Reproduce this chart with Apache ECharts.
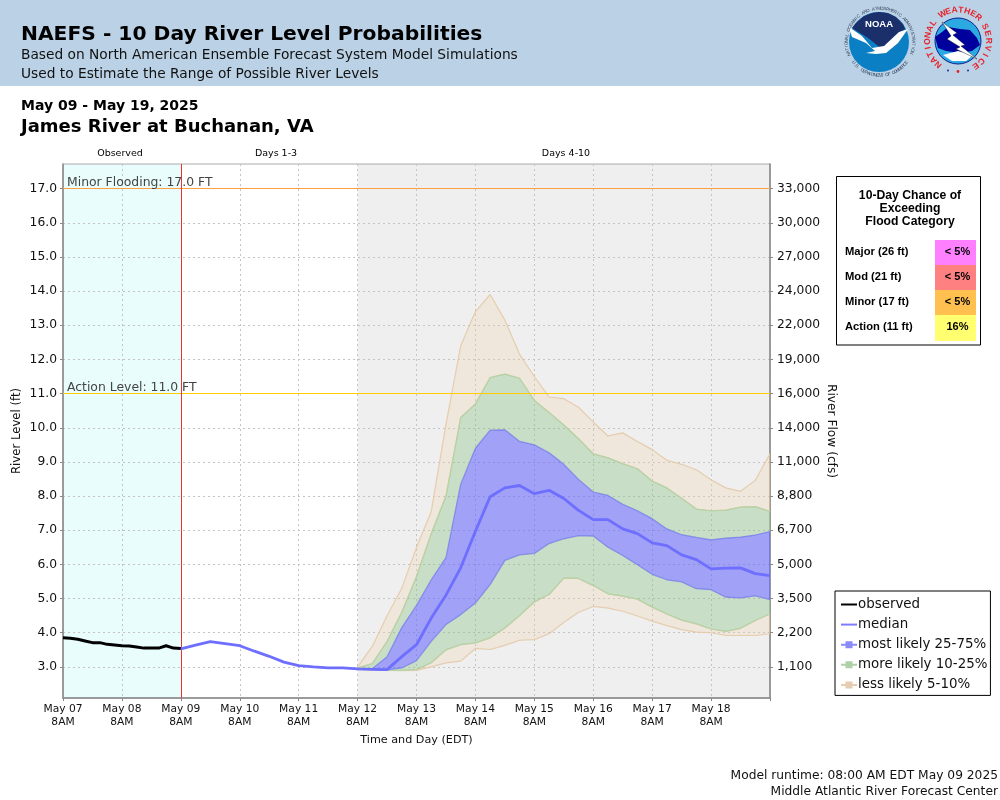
<!DOCTYPE html>
<html>
<head>
<meta charset="utf-8">
<title>NAEFS River Level Probabilities</title>
<script src="https://cdn.jsdelivr.net/npm/echarts@6/dist/echarts.min.js"></script>
<style>
html, body { margin: 0; padding: 0; background: #fff; }
#chart { width: 1000px; height: 800px; }
</style>
</head>
<body>
<div id="chart"></div>
<script>
// hours since May 07 8AM
const dayLabels = ['May 07', 'May 08', 'May 09', 'May 10', 'May 11', 'May 12', 'May 13', 'May 14', 'May 15', 'May 16', 'May 17', 'May 18'];
const stageTicks = [3, 4, 5, 6, 7, 8, 9, 10, 11, 12, 13, 14, 15, 16, 17];
const flowLabels = ['1,100', '2,200', '3,500', '5,000', '6,700', '8,800', '11,000', '14,000', '16,000', '19,000', '22,000', '24,000', '27,000', '30,000', '33,000'];

const obsHours = [0, 3, 6, 9, 12, 15, 18, 21, 24, 27, 30, 33, 36, 39, 42, 45, 48];
const observed = [3.85, 3.84, 3.81, 3.76, 3.71, 3.71, 3.66, 3.64, 3.62, 3.61, 3.58, 3.55, 3.55, 3.55, 3.62, 3.55, 3.54];

const medianHours = [48, 54, 60, 66, 72, 78, 84, 90, 96, 102, 108, 114, 120, 126, 132, 138, 144, 150, 156, 162, 168, 174, 180, 186, 192, 198, 204, 210, 216, 222, 228, 234, 240, 246, 252, 258, 264, 270, 276, 282, 288];
const median = [3.53, 3.64, 3.74, 3.68, 3.62, 3.46, 3.31, 3.14, 3.04, 3.0, 2.97, 2.97, 2.94, 2.93, 2.92, 3.3, 3.65, 4.43, 5.1, 5.9, 6.97, 7.98, 8.24, 8.31, 8.07, 8.17, 7.93, 7.58, 7.31, 7.31, 7.04, 6.9, 6.63, 6.55, 6.28, 6.14, 5.87, 5.89, 5.9, 5.73, 5.67];

const bandHours = [120, 126, 132, 138, 144, 150, 156, 162, 168, 174, 180, 186, 192, 198, 204, 210, 216, 222, 228, 234, 240, 246, 252, 258, 264, 270, 276, 282, 288];
const p5 = [2.92, 2.91, 2.9, 2.89, 2.9, 3.0, 3.12, 3.17, 3.54, 3.51, 3.63, 3.78, 3.8, 3.97, 4.3, 4.6, 4.77, 4.72, 4.63, 4.49, 4.34, 4.21, 4.09, 4.02, 4.0, 3.92, 3.92, 3.92, 3.97];
const p10 = [2.93, 2.92, 2.9, 2.9, 2.92, 3.12, 3.5, 3.65, 3.7, 3.85, 4.14, 4.5, 4.9, 5.12, 5.6, 5.59, 5.38, 5.14, 5.07, 4.98, 4.75, 4.55, 4.37, 4.26, 4.11, 4.04, 4.13, 4.36, 4.55];
const p25 = [2.94, 2.93, 2.91, 2.97, 3.18, 3.75, 4.24, 4.53, 4.87, 5.41, 6.12, 6.28, 6.32, 6.61, 6.75, 6.84, 6.83, 6.5, 6.26, 5.99, 5.71, 5.55, 5.49, 5.29, 5.26, 5.04, 5.02, 5.08, 4.97];
const p75 = [2.95, 2.95, 3.3, 4.15, 4.8, 5.55, 6.2, 8.35, 9.4, 9.93, 9.94, 9.6, 9.5, 9.27, 8.93, 8.49, 8.12, 8.02, 7.76, 7.57, 7.34, 7.04, 6.87, 6.79, 6.72, 6.77, 6.8, 6.86, 6.96];
const p90 = [2.97, 3.1, 3.75, 4.6, 5.65, 6.9, 8.0, 10.3, 10.7, 11.47, 11.57, 11.45, 10.8, 10.45, 10.08, 9.68, 9.24, 9.12, 8.95, 8.8, 8.44, 8.24, 7.94, 7.62, 7.57, 7.59, 7.68, 7.69, 7.55];
const p95 = [3.0, 3.6, 4.5, 5.3, 6.5, 7.55, 10.1, 12.4, 13.4, 13.9, 13.15, 12.15, 11.5, 10.9, 10.85, 10.6, 10.17, 9.76, 9.85, 9.6, 9.36, 9.05, 8.93, 8.77, 8.48, 8.24, 8.14, 8.46, 9.24];

const floodLabels = ['Major (26 ft)', 'Mod (21 ft)', 'Minor (17 ft)', 'Action (11 ft)'];
const floodChances = ['< 5%', '< 5%', '< 5%', '16%'];
const floodColors = ['#FF80FF', '#FF8080', '#FFC050', '#FFFF70'];

const SANS = '"DejaVu Sans"';
const ARIAL = '"Liberation Sans"';

const BLUE_LINE = 'rgba(120,120,255,0.65)', BLUE_FILL = 'rgba(90,90,255,0.52)';
const GREEN_LINE = 'rgba(175,212,165,0.8)', GREEN_FILL = 'rgba(130,190,125,0.36)';
const TAN_LINE = 'rgba(228,200,165,0.85)', TAN_FILL = 'rgba(240,205,165,0.25)';

const BAND_ICON = 'path://M0 6.5H16V8.5H0Z M4.5 4H11.5V11H4.5Z';
const LINE_ICON = 'path://M0 6.5H16V8.5H0Z';

function pairs(xs, ys) {
    return xs.map(function (x, i) { return [x, ys[i]]; });
}

// one closed polygon from lower edge to upper edge, placed through the axes
function bandSeries(name, lower, upper, lineColor, fillColor) {
    return {
        name: name,
        type: 'custom',
        coordinateSystem: 'cartesian2d',
        silent: true,
        clip: true,
        z: 3,
        data: bandHours.map(function (h, i) { return [h, lower[i], upper[i]]; }),
        encode: { x: 0, y: [1, 2] },
        itemStyle: { color: lineColor },
        renderItem: function (params, api) {
            if (params.dataIndex !== 0) return null;
            const top = bandHours.map(function (h, i) { return api.coord([h, upper[i]]); });
            const bottom = bandHours.map(function (h, i) { return api.coord([h, lower[i]]); }).reverse();
            return {
                type: 'polygon',
                shape: { points: top.concat(bottom) },
                style: { fill: fillColor, stroke: lineColor, lineWidth: 1.2, lineJoin: 'round' }
            };
        }
    };
}

function text(x, y, str, font, size, weight, color, align, extra) {
    return Object.assign({
        type: 'text', x: x, y: y, silent: true,
        style: {
            text: str, fontFamily: font, fontSize: size, fontWeight: weight || 'normal',
            fill: color || '#000', textAlign: align || 'left', textVerticalAlign: 'middle'
        }
    }, extra || {});
}

// letters placed one by one round a circle (angles in degrees, 0 = top, clockwise)
function ringText(cx, cy, r, str, startAngle, step, size, weight, color) {
    return str.split('').map(function (ch, i) {
        const a = (startAngle + i * step) * Math.PI / 180;
        return text(cx + r * Math.sin(a), cy - r * Math.cos(a), ch, ARIAL, size, weight, color, 'center', { rotation: -a });
    });
}

// same, for letters along the lower rim that read left to right
function ringTextBottom(cx, cy, r, str, startAngle, step, size, weight, color) {
    return str.split('').map(function (ch, i) {
        const a = (startAngle - i * step) * Math.PI / 180;
        return text(cx + r * Math.sin(a), cy - r * Math.cos(a), ch, ARIAL, size, weight, color, 'center', { rotation: Math.PI - a });
    });
}

function headerGraphics() {
    return [
        { type: 'rect', shape: { x: 0, y: 0, width: 1000, height: 86 }, style: { fill: '#BBD2E6' }, silent: true },
        text(21, 34.5, 'NAEFS - 10 Day River Level Probabilities', SANS, 20.25, 'bold'),
        text(21, 55.5, 'Based on North American Ensemble Forecast System Model Simulations', SANS, 13.75, 'normal', '#111'),
        text(21, 74.5, 'Used to Estimate the Range of Possible River Levels', SANS, 13.75, 'normal', '#111'),
        text(21, 106, 'May 09 - May 19, 2025', SANS, 14, 'bold'),
        text(21, 127.5, 'James River at Buchanan, VA', SANS, 18, 'bold'),
        text(120, 154, 'Observed', SANS, 9.5, 'normal', '#000', 'center'),
        text(276, 154, 'Days 1-3', SANS, 9.5, 'normal', '#000', 'center'),
        text(566, 154, 'Days 4-10', SANS, 9.5, 'normal', '#000', 'center'),
        text(998, 776, 'Model runtime: 08:00 AM EDT May 09 2025', SANS, 12.25, 'normal', '#111', 'right'),
        text(998, 792, 'Middle Atlantic River Forecast Center', SANS, 12.25, 'normal', '#111', 'right')
    ];
}

function noaaLogo() {
    const cx = 879, cy = 42, r = 30;
    return [
        { type: 'circle', shape: { cx: cx, cy: cy, r: r }, style: { fill: '#0B7FC4' }, silent: true },
        { type: 'polygon', shape: { points: [[856, 23], [864, 16], [872, 13], [879, 12], [888, 13], [896, 17], [903, 24], [905, 29], [895, 36], [882, 49], [868, 38], [852, 28]] }, style: { fill: '#1B2F6B' }, silent: true },
        { type: 'polygon', shape: { points: [[849, 27], [862, 36], [872, 48], [884, 46], [899, 32], [908, 29], [898, 43], [886, 53], [876, 54], [866, 53], [875, 51], [866, 43], [852, 37]] }, style: { fill: '#fff' }, silent: true },
        text(cx, 24, 'NOAA', ARIAL, 9.5, 'bold', '#fff', 'center')
    ].concat(
        ringText(cx + 1, cy, 33.5, 'NATIONAL OCEANIC AND ATMOSPHERIC ADMINISTRATION', -112, 4.8, 4.5, 'normal', '#33415E'),
        ringTextBottom(cx + 1, cy, 33.5, 'U.S. DEPARTMENT OF COMMERCE', 232, 4, 4.5, 'normal', '#33415E')
    );
}

function nwsLogo() {
    const cx = 958, cy = 41;
    return [
        { type: 'circle', shape: { cx: cx, cy: cy, r: 23 }, style: { fill: '#2CA9E1', stroke: '#0C1E8C', lineWidth: 1 }, silent: true },
        { type: 'polygon', shape: { points: [[935, 37], [942, 32], [948, 27], [960, 29], [970, 30], [977, 38], [980, 45], [972, 51], [960, 53], [946, 51], [938, 48]] }, style: { fill: '#00009C' }, silent: true },
        { type: 'polygon', shape: { points: [[943, 55], [958, 51], [973, 55], [966, 61], [952, 61]] }, style: { fill: '#fff' }, silent: true },
        { type: 'polygon', shape: { points: [[942, 22], [957, 33], [953, 35], [965, 45], [961, 46], [977, 59], [956, 49], [960, 47], [947, 39], [951, 36]] }, style: { fill: '#fff', stroke: '#000', lineWidth: 0.4 }, silent: true },
        { type: 'circle', shape: { cx: 958, cy: 71.5, r: 1.4 }, style: { fill: '#E8202A' }, silent: true },
        { type: 'circle', shape: { cx: 948, cy: 70.5, r: 1 }, style: { fill: '#1B2F9B' }, silent: true },
        { type: 'circle', shape: { cx: 968, cy: 70.5, r: 1 }, style: { fill: '#1B2F9B' }, silent: true }
    ].concat(
        ringText(cx, cy, 30.5, 'NATIONAL', -140, 12.3, 8.5, 'bold', '#E8202A'),
        ringText(cx, cy, 31, 'WEATHER', -30, 11.8, 8.5, 'bold', '#E8202A'),
        ringText(cx, cy, 30.5, 'SERVICE', 62, 13.8, 8.5, 'bold', '#E8202A')
    );
}

function floodBox() {
    const items = [
        { type: 'rect', shape: { x: 836.5, y: 176.5, width: 144, height: 168.5 }, style: { fill: '#fff', stroke: '#000', lineWidth: 1 }, silent: true },
        text(910, 195.5, '10-Day Chance of', ARIAL, 12.2, 'bold', '#000', 'center'),
        text(910, 208.5, 'Exceeding', ARIAL, 12.2, 'bold', '#000', 'center'),
        text(910, 221.5, 'Flood Category', ARIAL, 12.2, 'bold', '#000', 'center')
    ];
    floodLabels.forEach(function (label, i) {
        const top = 240 + i * 25;
        items.push({ type: 'rect', shape: { x: 935, y: top, width: 41, height: i === 3 ? 26 : 25 }, style: { fill: floodColors[i] }, silent: true });
        items.push(text(845, top + 12, label, ARIAL, 11.2, 'bold'));
        items.push(text(957.5, top + 12, floodChances[i], ARIAL, 11, 'bold', '#000', 'center'));
    });
    return items;
}

const chart = echarts.init(document.getElementById('chart'), null, { renderer: 'canvas' });

const gridLine = { color: '#c4c4c4', type: [2, 3], width: 1 };
const axisLine = { show: true, lineStyle: { color: '#888', width: 1.5 } };
const axisTick = { show: true, length: 3, lineStyle: { color: '#888' } };

const option = {
    animation: false,
    backgroundColor: '#fff',
    textStyle: { fontFamily: SANS },
    graphic: { elements: headerGraphics().concat(noaaLogo(), nwsLogo(), floodBox()) },
    grid: {
        left: 63, top: 164, width: 707, height: 534,
        outerBoundsMode: 'none',
        show: true, borderColor: '#aaa', borderWidth: 1, backgroundColor: 'transparent'
    },
    legend: {
        orient: 'vertical',
        left: 835,
        top: 591,
        padding: [7, 3, 4, 6],
        itemGap: 7.1,
        itemWidth: 16,
        itemHeight: 14,
        borderColor: '#000',
        borderWidth: 1,
        backgroundColor: '#fff',
        selectedMode: false,
        textStyle: { fontFamily: SANS, fontSize: 13.4, color: '#111', padding: [0, 0, 0, -4] },
        data: [
            { name: 'observed', icon: LINE_ICON, itemStyle: { color: '#000' } },
            { name: 'median', icon: LINE_ICON, itemStyle: { color: '#7C7CFF' } },
            { name: 'most likely 25-75%', icon: BAND_ICON, itemStyle: { color: '#8A8AFA' } },
            { name: 'more likely 10-25%', icon: BAND_ICON, itemStyle: { color: '#AFD0A8' } },
            { name: 'less likely 5-10%', icon: BAND_ICON, itemStyle: { color: '#E4CDB2' } }
        ]
    },
    xAxis: {
        type: 'value',
        min: 0,
        max: 288,
        interval: 24,
        name: 'Time and Day (EDT)',
        nameLocation: 'middle',
        nameMoveOverlap: false,
        nameGap: 42,
        nameTextStyle: { fontFamily: SANS, fontSize: 11.2, color: '#111', verticalAlign: 'middle' },
        axisLine: axisLine,
        axisTick: axisTick,
        axisLabel: {
            fontFamily: SANS, fontSize: 10.7, color: '#111', margin: 5, lineHeight: 12.5, hideOverlap: false,
            formatter: function (v) {
                const label = dayLabels[v / 24];
                return label ? label + '\n8AM' : '';
            }
        },
        splitLine: { show: true, lineStyle: gridLine }
    },
    yAxis: [
        {
            type: 'value',
            min: 2.09,
            max: 17.72,
            name: 'River Level (ft)',
            nameLocation: 'middle',
            nameMoveOverlap: false,
            nameRotate: 90,
            nameGap: 46,
            nameTextStyle: { fontFamily: SANS, fontSize: 11.7, color: '#111', verticalAlign: 'middle' },
            axisLine: axisLine,
            axisTick: Object.assign({ customValues: stageTicks }, axisTick),
            axisLabel: {
                fontFamily: SANS, fontSize: 12.3, color: '#111', margin: 6,
                customValues: stageTicks,
                formatter: function (v) { return v.toFixed(1); }
            },
            splitLine: { show: true, lineStyle: gridLine }
        },
        {
            type: 'value',
            position: 'right',
            min: 2.09,
            max: 17.72,
            name: 'River Flow (cfs)',
            nameLocation: 'middle',
            nameMoveOverlap: false,
            nameRotate: -90,
            nameGap: 61,
            nameTextStyle: { fontFamily: SANS, fontSize: 12.2, color: '#111', verticalAlign: 'middle' },
            axisLine: axisLine,
            axisTick: Object.assign({ customValues: stageTicks }, axisTick),
            axisLabel: {
                fontFamily: SANS, fontSize: 12.3, color: '#111', margin: 7,
                customValues: stageTicks,
                formatter: function (v) { return flowLabels[stageTicks.indexOf(v)]; }
            },
            splitLine: { show: false }
        }
    ],
    series: [
        {
            name: 'backdrop',
            type: 'line',
            data: [],
            z: -1,
            silent: true,
            markArea: {
                silent: true,
                z: -1,
                data: [
                    [{ xAxis: 0, itemStyle: { color: '#E9FDFD' } }, { xAxis: 48 }],
                    [{ xAxis: 120, itemStyle: { color: '#EFEFEF' } }, { xAxis: 288 }]
                ]
            }
        },
        bandSeries('less likely 5-10%', p5, p10, TAN_LINE, TAN_FILL),
        bandSeries('less likely 5-10%', p90, p95, TAN_LINE, TAN_FILL),
        bandSeries('more likely 10-25%', p10, p25, GREEN_LINE, GREEN_FILL),
        bandSeries('more likely 10-25%', p75, p90, GREEN_LINE, GREEN_FILL),
        bandSeries('most likely 25-75%', p25, p75, BLUE_LINE, BLUE_FILL),
        {
            name: 'median',
            type: 'line',
            data: pairs(medianHours, median),
            showSymbol: false,
            symbol: 'none',
            lineStyle: { color: '#6E6EFF', width: 2.8 },
            itemStyle: { color: '#7C7CFF' },
            emphasis: { disabled: true },
            z: 5
        },
        {
            name: 'observed',
            type: 'line',
            data: pairs(obsHours, observed),
            showSymbol: false,
            symbol: 'none',
            lineStyle: { color: '#000', width: 3 },
            itemStyle: { color: '#000' },
            emphasis: { disabled: true },
            z: 6,
            markLine: {
                silent: true,
                symbol: 'none',
                animation: false,
                data: [
                    {
                        yAxis: 17,
                        lineStyle: { color: '#FF9F40', type: 'solid', width: 1 },
                        label: { show: true, position: 'insideStartTop', distance: 0, formatter: 'Minor Flooding: 17.0 FT', fontFamily: SANS, fontSize: 12.4, color: '#444', padding: [0, 0, 0, 4] }
                    },
                    {
                        yAxis: 11,
                        lineStyle: { color: '#FFCC00', type: 'solid', width: 1 },
                        label: { show: true, position: 'insideStartTop', distance: 0, formatter: 'Action Level: 11.0 FT', fontFamily: SANS, fontSize: 12.4, color: '#444', padding: [0, 0, 0, 4] }
                    },
                    {
                        xAxis: 48,
                        lineStyle: { color: '#F03030', type: 'solid', width: 1 },
                        label: { show: false }
                    }
                ]
            }
        }
    ]
};

chart.setOption(option);
</script>
</body>
</html>
